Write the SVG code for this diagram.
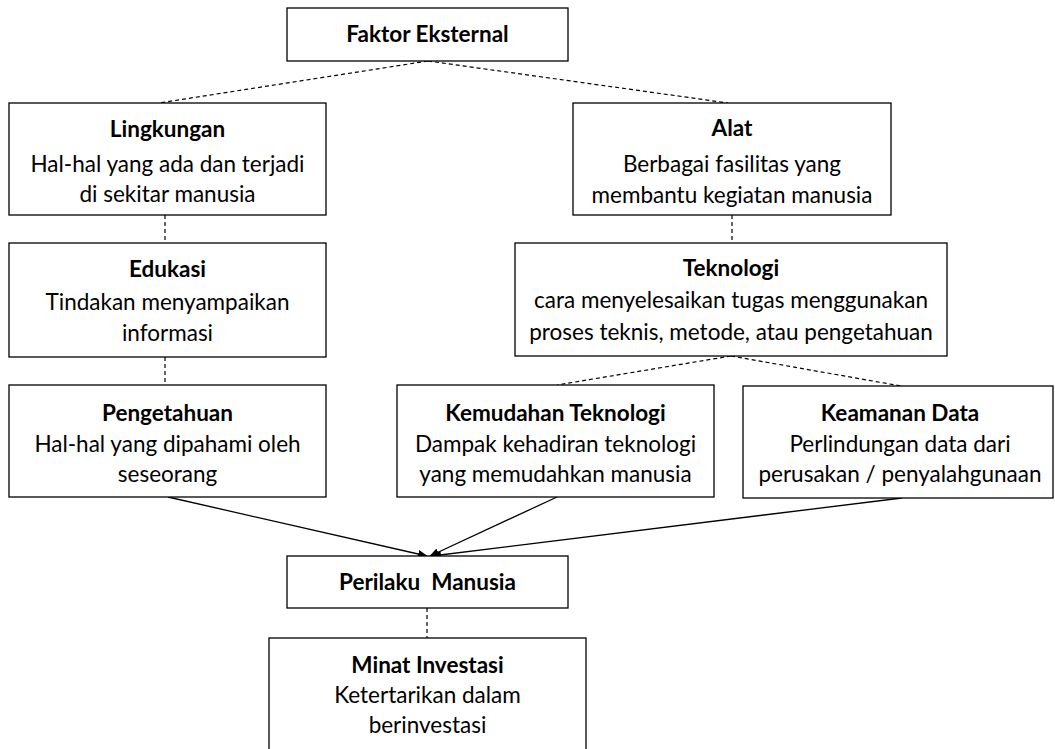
<svg xmlns="http://www.w3.org/2000/svg" width="1055" height="749" viewBox="0 0 1055 749">
<style>
.box{fill:#fff;stroke:#000;stroke-width:1.3}
.t{font-family:Lato,"Liberation Sans",sans-serif;font-size:22.5px;fill:#000;text-anchor:middle}
.b{font-weight:bold}
.d{fill:none;stroke:#000;stroke-width:1.2;stroke-dasharray:4 3}
.s{fill:none;stroke:#000;stroke-width:1.3;marker-end:url(#ah)}
</style>
<defs>
<marker id="ah" markerWidth="10" markerHeight="8" refX="9" refY="4" orient="auto" markerUnits="userSpaceOnUse">
<path d="M0,0 L10,4 L0,8 Z" fill="#000"/>
</marker>
</defs>
<rect width="1055" height="749" fill="#fff"/>
<g id="connectors">
<line class="d" x1="428" y1="61" x2="159" y2="103"/>
<line class="d" x1="428" y1="61" x2="728" y2="103"/>
<line class="d" x1="165" y1="215" x2="165" y2="243"/>
<line class="d" x1="165" y1="357" x2="165" y2="385"/>
<line class="d" x1="732" y1="215" x2="732" y2="243"/>
<line class="d" x1="731" y1="356" x2="557" y2="385"/>
<line class="d" x1="731" y1="356" x2="901" y2="386"/>
<line class="d" x1="427" y1="608" x2="427" y2="638"/>
<line class="s" x1="168" y1="497" x2="427" y2="556"/>
<line class="s" x1="557" y1="497" x2="430" y2="556"/>
<line class="s" x1="902" y1="498" x2="432" y2="556"/>
</g>
<g id="faktor-eksternal">
<rect class="box" x="287" y="8" width="281" height="53"/>
<text class="t b" x="427.5" y="42">Faktor Eksternal</text>
</g>
<g id="lingkungan">
<rect class="box" x="9" y="103" width="317" height="112"/>
<text class="t b" x="167.5" y="137">Lingkungan</text>
<text class="t" x="167.5" y="172">Hal-hal yang ada dan terjadi</text>
<text class="t" x="167.5" y="202">di sekitar manusia</text>
</g>
<g id="alat">
<rect class="box" x="573" y="103" width="318" height="112"/>
<text class="t b" x="732" y="136">Alat</text>
<text class="t" x="732" y="172">Berbagai fasilitas yang</text>
<text class="t" x="732" y="203">membantu kegiatan manusia</text>
</g>
<g id="edukasi">
<rect class="box" x="9" y="243" width="317" height="114"/>
<text class="t b" x="167.5" y="277">Edukasi</text>
<text class="t" x="167.5" y="310">Tindakan menyampaikan</text>
<text class="t" x="167.5" y="341">informasi</text>
</g>
<g id="teknologi">
<rect class="box" x="515" y="243" width="432" height="113"/>
<text class="t b" x="731" y="276">Teknologi</text>
<text class="t" x="731" y="308">cara menyelesaikan tugas menggunakan</text>
<text class="t" x="731" y="340">proses teknis, metode, atau pengetahuan</text>
</g>
<g id="pengetahuan">
<rect class="box" x="9" y="385" width="317" height="112"/>
<text class="t b" x="167.5" y="421">Pengetahuan</text>
<text class="t" x="167.5" y="452">Hal-hal yang dipahami oleh</text>
<text class="t" x="167.5" y="482">seseorang</text>
</g>
<g id="kemudahan-teknologi">
<rect class="box" x="397" y="385" width="317" height="112"/>
<text class="t b" x="555.5" y="421">Kemudahan Teknologi</text>
<text class="t" x="555.5" y="452">Dampak kehadiran teknologi</text>
<text class="t" x="555.5" y="482">yang memudahkan manusia</text>
</g>
<g id="keamanan-data">
<rect class="box" x="743" y="386" width="310" height="112"/>
<text class="t b" x="900" y="421">Keamanan Data</text>
<text class="t" x="900" y="452">Perlindungan data dari</text>
<text class="t" x="900" y="482">perusakan / penyalahgunaan</text>
</g>
<g id="perilaku-manusia">
<rect class="box" x="287" y="556" width="281" height="52"/>
<text class="t b" x="427.5" y="590" xml:space="preserve">Perilaku  Manusia</text>
</g>
<g id="minat-investasi">
<rect class="box" x="269" y="638" width="317" height="130"/>
<text class="t b" x="427.5" y="673">Minat Investasi</text>
<text class="t" x="427.5" y="703">Ketertarikan dalam</text>
<text class="t" x="427.5" y="733">berinvestasi</text>
</g>
</svg>
